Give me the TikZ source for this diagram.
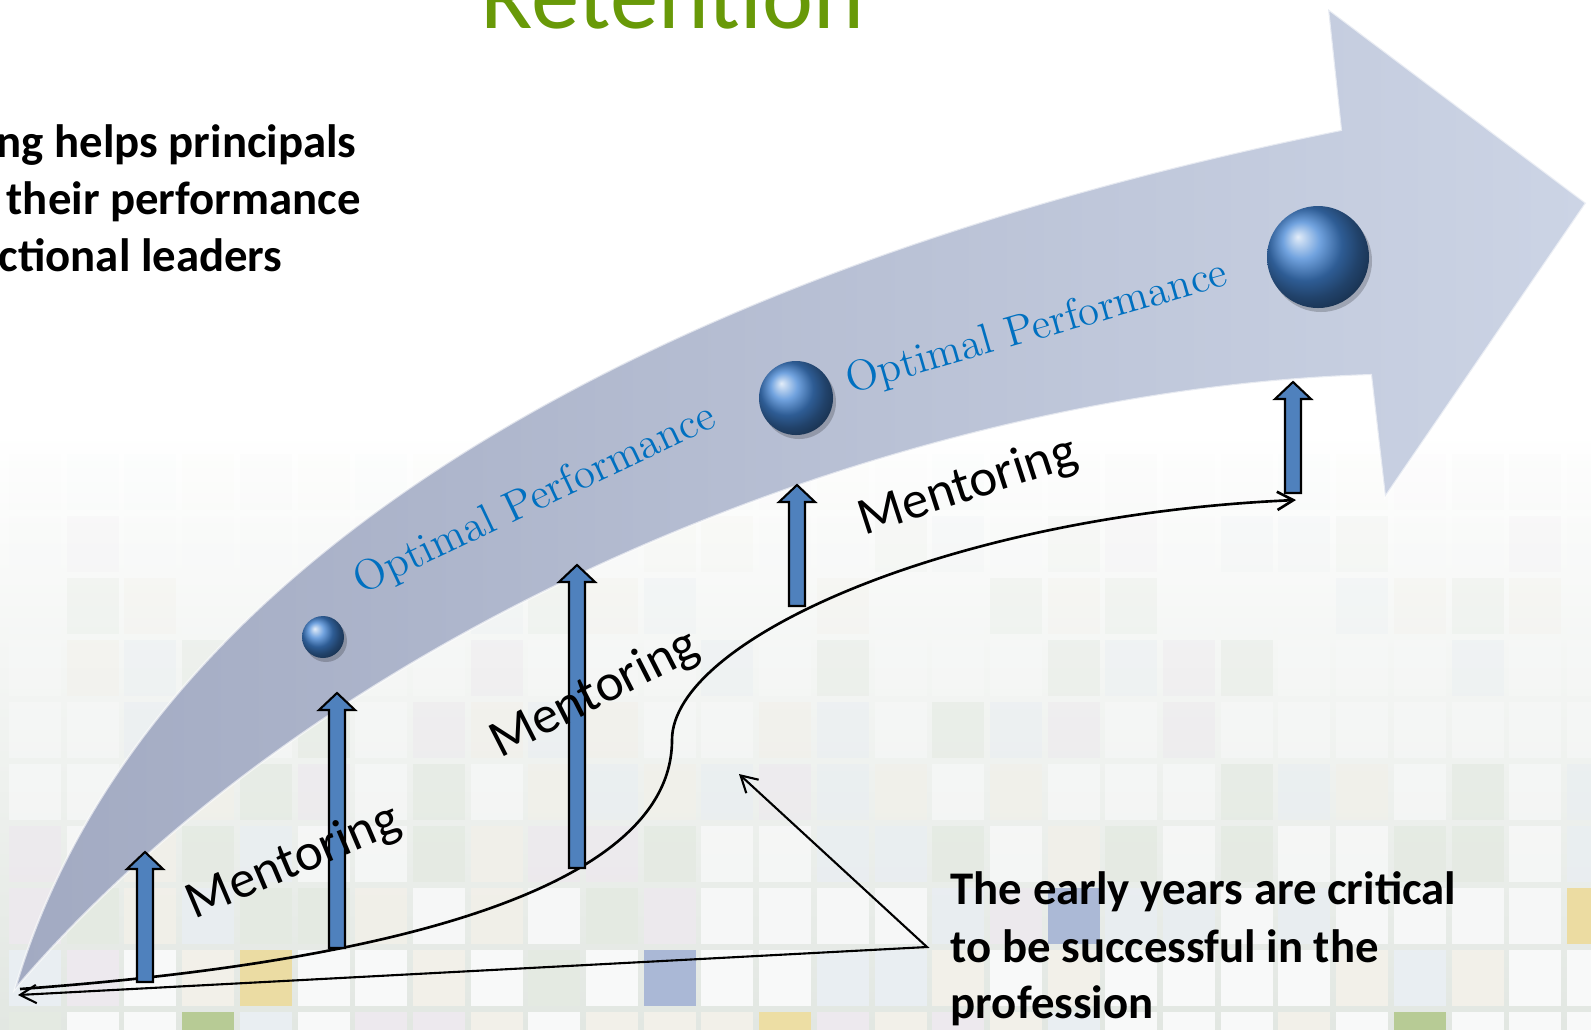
\documentclass[tikz,border=0pt]{standalone}
\usepackage{fontspec}
\newfontfamily\calibri{Carlito}
\usetikzlibrary{arrows.meta}

\definecolor{titlegreen}{RGB}{104,153,8}
\definecolor{perfblue}{RGB}{0,112,192}
\definecolor{liftblue}{RGB}{79,129,189}
\definecolor{bandlight}{RGB}{204,212,229}
\definecolor{banddark}{RGB}{162,170,194}
\definecolor{gapgray}{RGB}{226,231,226}
\definecolor{tileA}{RGB}{248,249,249}
\definecolor{tileB}{RGB}{228,234,226}
\definecolor{tileC}{RGB}{237,233,238}
\definecolor{tileD}{RGB}{233,238,242}
\definecolor{tileE}{RGB}{242,240,233}
\definecolor{tileyellow}{RGB}{236,218,150}
\definecolor{tileblue}{RGB}{160,176,212}
\definecolor{tilegreen}{RGB}{172,196,132}
\definecolor{ballblue}{RGB}{66,132,212}

\begin{document}
\begin{tikzpicture}[
  x=0.01cm, y=-0.01cm,
  >={Straight Barb[length=4.6pt,width=5.2pt]},
  liftarrow/.style={draw=black, line width=0.6pt, fill=liftblue},
  mentor/.style={font=\calibri\fontsize{15}{18}\selectfont, anchor=base, inner sep=0pt},
  perf/.style={font=\fontsize{12.2}{15}\selectfont, text=perfblue, anchor=base, inner sep=0pt},
  lead/.style={font=\calibri\bfseries\fontsize{13.3}{16}\selectfont, anchor=base west, inner sep=0pt},
  track/.style={line width=0.75pt},
]
\useasboundingbox (0,0) rectangle (1591,1029);
\clip (0,0) rectangle (1591,1029);

% ===== tiled backdrop, fading upwards =====
\fill[top color=white, bottom color=gapgray] (0,430) rectangle (1591,1029);
\pgfmathsetseed{11}
\pgfmathdeclarerandomlist{tiles}{{tileA}{tileB}{tileC}{tileD}{tileE}{tileA}{tileA}}
\foreach \j in {0,...,10}{
  \pgfmathsetmacro{\op}{max(0,min(1,-0.06+\j*0.12))}
  \foreach \i in {0,...,27}{
    \pgfmathrandomitem{\tint}{tiles}
    \fill[\tint, opacity=\op] ({9+57.7*\i},{392+62*\j}) rectangle ++(52,56);
  }
}
% a few coloured tiles
\foreach \i/\j/\c in {4/9/tileyellow, 11/9/tileblue, 18/8/tileblue, 3/10/tilegreen,
                      13/10/tileyellow, 24/10/tilegreen, 27/8/tileyellow}{
  \fill[\c, opacity=0.85] ({9+57.7*\i},{392+62*\j}) rectangle ++(52,56);
}

% ===== big curved arrow =====
\shadedraw[left color=banddark, right color=bandlight, draw=white, draw opacity=0.6,
           line width=0.6pt]
  (15,989) .. controls (140,560) and (650,270) .. (1341,130)
  -- (1328,9) -- (1586,203) -- (1385,497) -- (1371,375)
  .. controls (900,390) and (330,620) .. (15,989) -- cycle;

% spheres along the arrow
\foreach \bx/\by/\br/\name in {323/637/21/ball1, 796/398/37/ball2, 1318/257/51/ball3}{
  \fill[black, opacity=0.2] (\bx+3,\by+4) circle (\br);
  \shade[ball color=ballblue] (\bx,\by) circle (\br);
  \coordinate (\name) at (\bx,\by);
}

\node[perf, rotate=25.4] (perf1) at (540,510) {Optimal Performance};
\node[perf, rotate=16] (perf2) at (1040,339) {Optimal Performance};

% ===== mentoring track =====
\coordinate (start) at (20,989);
\coordinate (bend) at (672,740);
\coordinate (finish) at (1296,500);
\draw[track, ->] (start) .. controls (420,960) and (672,880) .. (bend)
  .. controls (672,640) and (950,515) .. (finish);

% lift arrows from the track up to the big arrow
\foreach \ax/\at/\ab in {145/852/982, 337/693/948, 577/565/868, 797/485/606, 1293/382/493}{
  \draw[liftarrow] (\ax-8,\ab) -- (\ax-8,\at+17) -- (\ax-18,\at+17) -- (\ax,\at)
    -- (\ax+18,\at+17) -- (\ax+8,\at+17) -- (\ax+8,\ab) -- cycle;
}

\node[mentor, rotate=23] (mentor1) at (299,875) {Mentoring};
\node[mentor, rotate=27] (mentor2) at (601,707) {Mentoring};
\node[mentor, rotate=18] (mentor3) at (972,500) {Mentoring};

% ===== callout =====
\coordinate (root) at (18,995);
\coordinate (pin) at (927,947);
\coordinate (dip) at (739,774);
\draw[line width=0.6pt, <->] (root) -- (pin) -- (dip);

\node[lead] (early1) at (950,904) {The early years are critical};
\node[lead] (early2) at (950,962) {to be successful in the};
\node[lead] (early3) at (950,1018) {profession};

% ===== heading and side text =====
\node[font=\calibri\fontsize{27.5}{33}\selectfont, text=titlegreen, anchor=base] (title)
  at (672,28) {Retention};
\node[lead] (lead1) at (-4,157) {ng helps principals};
\node[lead] (lead2) at (6,214) {their performance};
\node[lead] (lead3) at (-2,271) {ctional leaders};
\end{tikzpicture}
\end{document}
